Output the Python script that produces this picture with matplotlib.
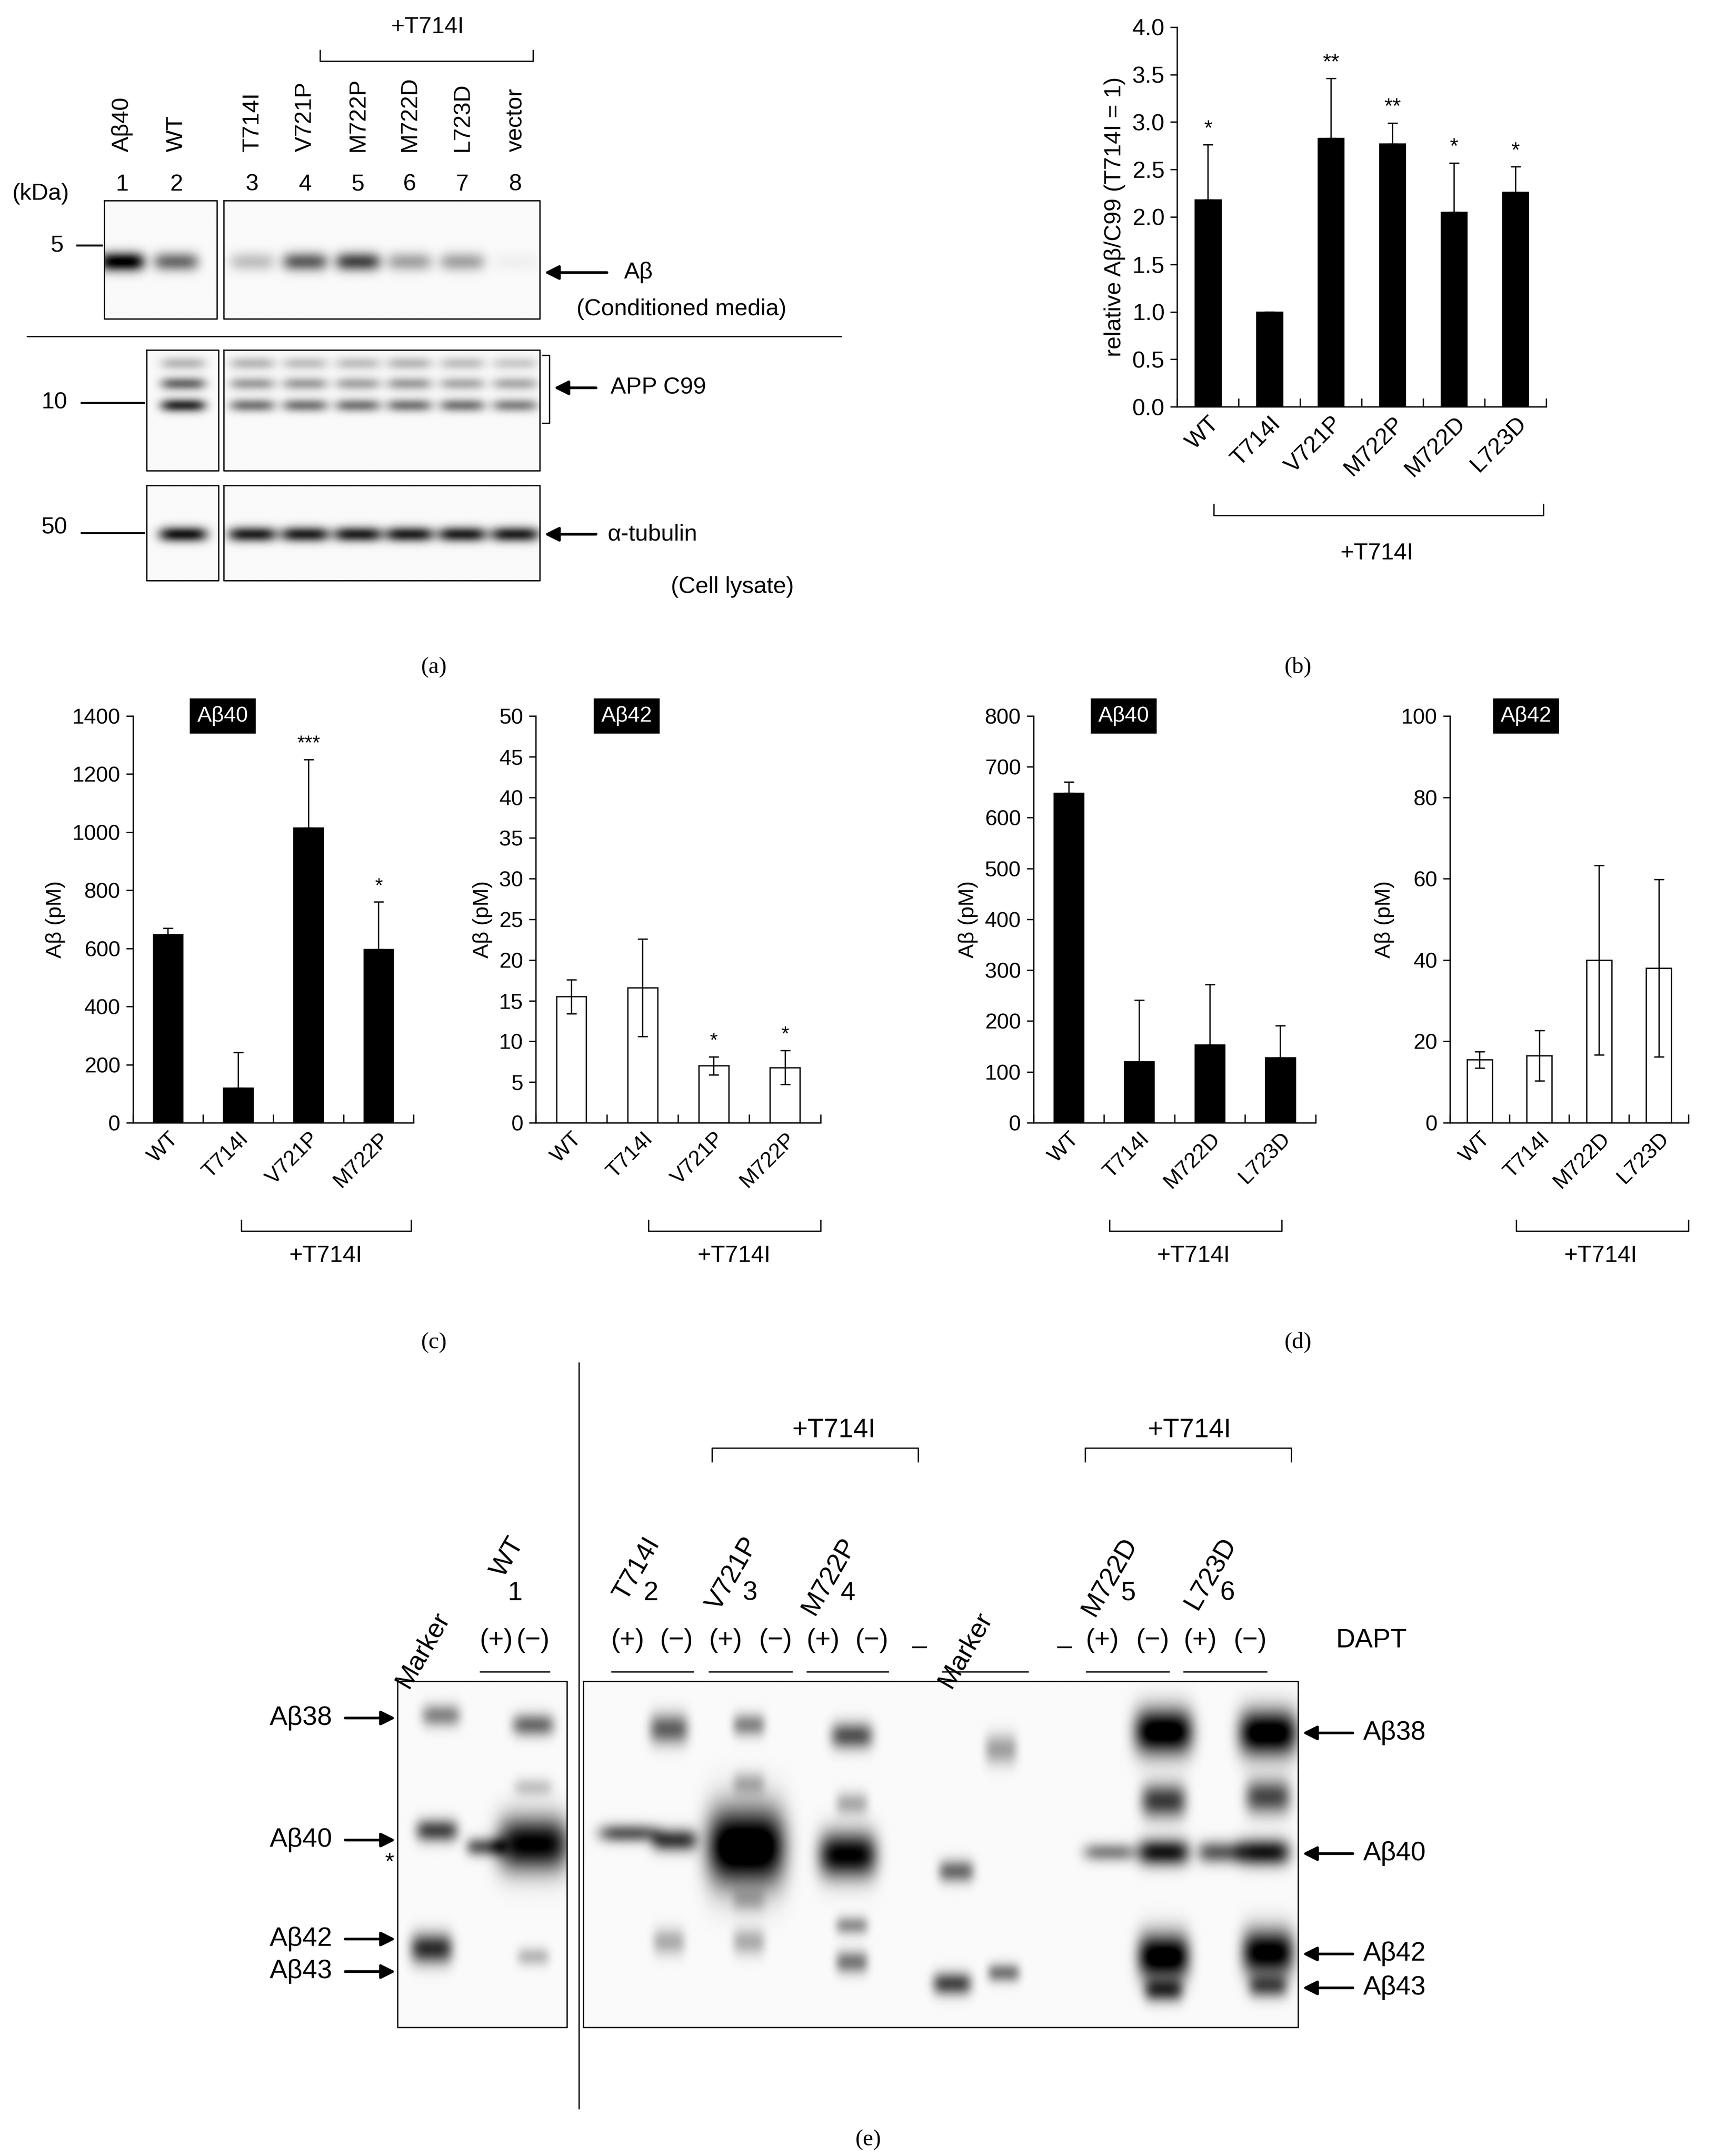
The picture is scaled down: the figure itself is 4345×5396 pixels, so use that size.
import numpy as np
import matplotlib
matplotlib.use("Agg")
from matplotlib import pyplot as plt

plt.rcParams["font.family"] = ["Liberation Sans", "DejaVu Sans"]

# ---- bar data ----
B_LABELS = ["WT", "T714I", "V721P", "M722P", "M722D", "L723D"]
B_VALUES = [2.18, 1.00, 2.83, 2.77, 2.05, 2.26]
B_ERR = [0.58, 0.0, 0.63, 0.22, 0.52, 0.27]
B_STARS = ["*", "", "**", "**", "*", "*"]

C_LABELS = ["WT", "T714I", "V721P", "M722P"]
C40_VALUES = [648, 120, 1015, 597]
C40_ERR = [22, 122, 235, 163]
C40_STARS = ["", "", "***", "*"]
C42_VALUES = [15.5, 16.6, 7.0, 6.8]
C42_ERR = [2.1, 6.0, 1.1, 2.1]
C42_STARS = ["", "", "*", "*"]

D_LABELS = ["WT", "T714I", "M722D", "L723D"]
D40_VALUES = [648, 120, 153, 128]
D40_ERR = [22, 121, 119, 63]
D42_VALUES = [15.5, 16.5, 40.0, 38.0]
D42_ERR = [2.0, 6.2, 23.3, 21.8]

# ---- blot data (displayed-pixel coords: x, y, amplitude, sx, sy) ----
A_TOP_X = [90, 130, 186, 225, 264, 302, 341, 380]
A_TOP_AMP = [1.0, 0.55, 0.22, 0.6, 0.7, 0.33, 0.33, 0.04]
A_C99_X = [135, 186, 225, 264, 302, 341, 380]
A_C99_Y = [268, 283, 299]
A_C99_AMP = [[0.25, 0.55, 0.8], [0.25, 0.35, 0.5], [0.22, 0.35, 0.5], [0.22, 0.32, 0.5],
             [0.25, 0.35, 0.5], [0.22, 0.3, 0.5], [0.18, 0.3, 0.45]]
A_TUB_X = [135, 186, 225, 264, 302, 341, 380]
A_TUB_AMP = [0.9, 0.85, 0.85, 0.85, 0.85, 0.85, 0.85]

E_BANDS = [
    # marker lane (left box)
    (325, 1265, 0.45, 12, 6), (322, 1350, 0.7, 13, 6), (318, 1437, 0.8, 13, 8),
    # WT
    (358, 1362, 0.6, 12, 5), (393, 1360, 1.0, 22, 14), (393, 1272, 0.55, 13, 6),
    (393, 1318, 0.2, 12, 5), (393, 1443, 0.25, 10, 5),
    # T714I
    (463, 1352, 0.6, 18, 5), (497, 1357, 0.75, 14, 6), (493, 1275, 0.6, 12, 8),
    (493, 1432, 0.3, 10, 7),
    # V721P
    (550, 1362, 1.2, 24, 20), (552, 1272, 0.45, 10, 6), (552, 1315, 0.25, 10, 6),
    (552, 1432, 0.3, 10, 7), (552, 1402, 0.2, 10, 6),
    # M722P
    (625, 1368, 1.0, 18, 12), (628, 1280, 0.65, 13, 7), (628, 1330, 0.3, 10, 6),
    (628, 1420, 0.4, 10, 5), (628, 1447, 0.5, 10, 6),
    # marker lane (right box)
    (705, 1380, 0.55, 11, 6), (702, 1463, 0.7, 12, 6), (740, 1455, 0.5, 10, 5),
    (738, 1290, 0.35, 10, 8),
    # M722D
    (818, 1366, 0.45, 16, 5), (858, 1366, 0.9, 16, 7), (858, 1277, 1.1, 18, 12),
    (858, 1328, 0.75, 14, 9), (858, 1443, 1.1, 16, 12), (858, 1468, 0.7, 12, 6),
    # L723D
    (900, 1366, 0.6, 14, 6), (932, 1366, 0.9, 16, 7), (935, 1278, 1.1, 18, 12),
    (935, 1325, 0.7, 14, 9), (935, 1440, 1.05, 16, 12), (935, 1465, 0.6, 12, 6),
]

W, H = 1280, 1590
fig = plt.figure(figsize=(4345 / 300, 5396 / 300), dpi=300)
ov = fig.add_axes([0, 0, 1, 1])
ov.set_xlim(0, W)
ov.set_ylim(H, 0)
ov.axis("off")

FS = 14


def blot(x0, x1, y0, y1, bands):
    xs = np.linspace(x0, x1, int((x1 - x0) * 3))
    ys = np.linspace(y0, y1, int((y1 - y0) * 3))
    X, Y = np.meshgrid(xs, ys)
    img = np.zeros_like(X)
    for bx, by, amp, sx, sy in bands:
        img += amp * np.exp(-((X - bx) / sx) ** 4 / 2 - ((Y - by) / sy) ** 2 / 2)
    img = np.clip(img + 0.02, 0, 1)
    ov.imshow(img, cmap="gray_r", vmin=0, vmax=1, extent=[x0, x1, y1, y0],
              aspect="auto", interpolation="bilinear")
    ov.plot([x0, x1, x1, x0, x0], [y0, y0, y1, y1, y0], color="black", lw=0.8)


def bracket(x0, x1, y, h, up=True):
    d = h if up else -h
    ov.plot([x0, x0, x1, x1], [y + d, y, y, y + d], color="black", lw=0.8)


def arrow(x_from, x_to, y):
    ov.annotate("", xy=(x_to, y), xytext=(x_from, y),
                arrowprops=dict(arrowstyle="-|>", color="black", lw=1.6, mutation_scale=18))


# ---------------- panel (a) ----------------
top_bands = [(x, 193, a, 14, 5) for x, a in zip(A_TOP_X, A_TOP_AMP)]
blot(77, 160, 148, 235, top_bands)
blot(165, 398, 148, 235, top_bands)
c99_bands = [(x, y, a, 14, 3.5) for x, amps in zip(A_C99_X, A_C99_AMP) for y, a in zip(A_C99_Y, amps)]
blot(108, 161, 258, 347, c99_bands)
blot(165, 398, 258, 347, c99_bands)
tub_bands = [(x, 394, a, 15, 4) for x, a in zip(A_TUB_X, A_TUB_AMP)]
blot(108, 161, 358, 428, tub_bands)
blot(165, 398, 358, 428, tub_bands)

lane_names = ["Aβ40", "WT", "T714I", "V721P", "M722P", "M722D", "L723D", "vector"]
for i, (x, n) in enumerate(zip(A_TOP_X, lane_names)):
    ov.text(x, 112, n, rotation=90, ha="center", va="bottom", fontsize=FS)
    ov.text(x, 136, str(i + 1), ha="center", va="center", fontsize=FS)
ov.text(315, 20, "+T714I", ha="center", va="center", fontsize=FS)
bracket(236, 393, 45, 8, up=False)
ov.text(30, 143, "(kDa)", ha="center", va="center", fontsize=FS)
ov.text(42, 181, "5", ha="center", va="center", fontsize=FS)
ov.plot([57, 75], [181, 181], color="black", lw=1.2)
arrow(450, 399, 201)
ov.text(460, 201, "Aβ", ha="left", va="center", fontsize=FS)
ov.text(425, 228, "(Conditioned media)", ha="left", va="center", fontsize=FS)
ov.plot([20, 620], [248, 248], color="black", lw=0.8)
ov.text(40, 297, "10", ha="center", va="center", fontsize=FS)
ov.plot([60, 106], [297, 297], color="black", lw=1.2)
ov.plot([400, 405, 405, 400], [262, 262, 312, 312], color="black", lw=0.8)
arrow(442, 406, 286)
ov.text(450, 286, "APP C99", ha="left", va="center", fontsize=FS)
ov.text(40, 389, "50", ha="center", va="center", fontsize=FS)
ov.plot([60, 106], [393, 393], color="black", lw=1.2)
arrow(442, 399, 394)
ov.text(448, 394, "α-tubulin", ha="left", va="center", fontsize=FS)
ov.text(540, 433, "(Cell lysate)", ha="center", va="center", fontsize=FS)
ov.text(320, 492, "(a)", ha="center", va="center", fontsize=FS, family="Liberation Serif")
ov.text(957, 492, "(b)", ha="center", va="center", fontsize=FS, family="Liberation Serif")
ov.text(320, 990, "(c)", ha="center", va="center", fontsize=FS, family="Liberation Serif")
ov.text(957, 990, "(d)", ha="center", va="center", fontsize=FS, family="Liberation Serif")
ov.text(640, 1578, "(e)", ha="center", va="center", fontsize=FS, family="Liberation Serif")


# ---------------- bar charts ----------------
def bar_axes(x0, x1, y_top, y_bot, labels, values, err, filled, ymax, ystep,
             stars=None, both=False, title=None, ylabel="Aβ (pM)", fmt="{:g}",
             bracket_y=None, tfs=12):
    ax = fig.add_axes([x0 / W, 1 - y_bot / H, (x1 - x0) / W, (y_bot - y_top) / H])
    n = len(values)
    xs = np.arange(n)
    ax.bar(xs, values, width=0.42, color="black" if filled else "white",
           edgecolor="black", linewidth=0.8, zorder=2)
    lo = err if both else [0] * n
    ax.errorbar(xs, values, yerr=[lo, err], fmt="none", ecolor="black",
                elinewidth=0.8, capsize=3, capthick=0.8, zorder=3)
    if stars:
        for x, v, e, s in zip(xs, values, err, stars):
            if s:
                ax.text(x, v + e + ymax * 0.015, s, ha="center", va="bottom", fontsize=tfs)
    ax.set_xlim(-0.5, n - 0.5)
    ax.set_ylim(0, ymax)
    ticks = np.arange(0, ymax + ystep / 2, ystep)
    ax.set_yticks(ticks)
    ax.set_yticklabels([fmt.format(t) for t in ticks], fontsize=tfs + 1)
    ax.set_xticks(np.arange(n + 1) - 0.5, minor=True)
    ax.tick_params(axis="x", which="minor", direction="in", length=5, width=0.8)
    ax.set_xticks(xs)
    ax.set_xticklabels(labels, rotation=45, ha="right", rotation_mode="anchor", fontsize=tfs + 1)
    ax.tick_params(axis="x", which="major", length=0)
    ax.tick_params(axis="y", length=4, width=0.8)
    for s in ["top", "right"]:
        ax.spines[s].set_visible(False)
    ax.set_ylabel(ylabel, fontsize=tfs + 1)
    if title:
        ax.text(0.32, 1.0, title, transform=ax.transAxes, ha="center", va="center",
                fontsize=tfs + 1, color="white",
                bbox=dict(facecolor="black", edgecolor="black", pad=4))
    return ax


bar_axes(868, 1140, 20, 300, B_LABELS, B_VALUES, B_ERR, True, 4.0, 0.5,
         stars=B_STARS, ylabel="relative Aβ/C99 (T714I = 1)", fmt="{:.1f}", tfs=13)
bracket(895, 1138, 380, 8, up=False)
ov.text(1015, 408, "+T714I", ha="center", va="center", fontsize=FS)

bar_axes(98, 305, 528, 828, C_LABELS, C40_VALUES, C40_ERR, True, 1400, 200,
         stars=C40_STARS, title="Aβ40")
bar_axes(395, 605, 528, 828, C_LABELS, C42_VALUES, C42_ERR, False, 50, 5,
         stars=C42_STARS, both=True, title="Aβ42")
bar_axes(762, 970, 528, 828, D_LABELS, D40_VALUES, D40_ERR, True, 800, 100,
         title="Aβ40")
bar_axes(1069, 1245, 528, 828, D_LABELS, D42_VALUES, D42_ERR, False, 100, 20,
         both=True, title="Aβ42")
for bx0, bx1, tx in [(178, 303, 240), (478, 605, 541), (818, 945, 880), (1118, 1245, 1180)]:
    bracket(bx0, bx1, 908, 8, up=False)
    ov.text(tx, 926, "+T714I", ha="center", va="center", fontsize=FS)

# ---------------- panel (e) ----------------
ov.plot([427, 427], [1005, 1555], color="black", lw=0.8)
blot(293, 418, 1240, 1495, E_BANDS)
blot(430, 957, 1240, 1495, E_BANDS)

e_names = [("Marker", 325, None), ("WT", 380, "1"), ("T714I", 480, "2"), ("V721P", 553, "3"),
           ("M722P", 625, "4"), ("Marker", 725, None), ("M722D", 832, "5"), ("L723D", 905, "6")]
for name, x, num in e_names:
    ov.text(x + 10, 1195 if num is None else 1140, name, rotation=60, ha="right",
            va="bottom", rotation_mode="anchor", fontsize=FS + 2)
    if num:
        ov.text(x, 1175, num, ha="center", va="center", fontsize=FS + 2)
for xp, xm in [(366, 393), (463, 499), (535, 572), (607, 643), (813, 850), (885, 922)]:
    ov.text(xp, 1210, "(+)", ha="center", va="center", fontsize=FS + 2)
    ov.text(xm, 1210, "(−)", ha="center", va="center", fontsize=FS + 2)
    ov.plot([xp - 12, xm + 12], [1233, 1233], color="black", lw=0.8)
ov.plot([695, 758], [1233, 1233], color="black", lw=0.8)
ov.text(678, 1215, "–", ha="center", va="center", fontsize=FS + 2)
ov.text(785, 1215, "–", ha="center", va="center", fontsize=FS + 2)
ov.text(985, 1210, "DAPT", ha="left", va="center", fontsize=FS + 2)
ov.text(615, 1055, "+T714I", ha="center", va="center", fontsize=FS + 2)
bracket(525, 677, 1068, 10, up=True)
ov.text(877, 1055, "+T714I", ha="center", va="center", fontsize=FS + 2)
bracket(800, 952, 1068, 10, up=True)

for name, y in [("Aβ38", 1267), ("Aβ40", 1357), ("Aβ42", 1430), ("Aβ43", 1454)]:
    arrow(252, 294, y)
    ov.text(245, y, name, ha="right", va="center", fontsize=FS + 2)
for name, y in [("Aβ38", 1278), ("Aβ40", 1367), ("Aβ42", 1441), ("Aβ43", 1466)]:
    arrow(1000, 958, y)
    ov.text(1005, y, name, ha="left", va="center", fontsize=FS + 2)
ov.text(287, 1374, "*", ha="center", va="center", fontsize=FS)

fig.savefig("out.png", dpi=300)
